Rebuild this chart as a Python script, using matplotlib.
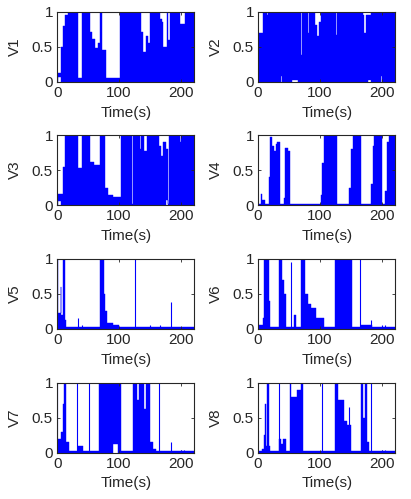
import matplotlib
matplotlib.use("Agg")
import matplotlib.pyplot as plt
import numpy as np

# ── Data ───────────────────────────────────────────────────────────────────────
# Each panel: envelope segments (t_start, low, high), held until next t_start.
# Spikes: (t, height) single thin lines from zero.
T_END = 222

v1_seg = [(0, 0, 0.13), (2, 0.07, 0.13), (7, 0, 0.5), (9, 0, 0.8), (12, 0, 0.95),
          (18, 0, 1), (34, 0, 0.05), (40, 0, 1), (53, 0, 0.72), (57, 0, 0.62),
          (62, 0, 0.48), (66, 0, 0.55), (69, 0, 1), (73, 0, 0.45), (79, 0, 0.05),
          (102, 0, 1), (135, 0, 0.72), (139, 0, 0.42), (143, 0, 0.65), (147, 0, 0.55),
          (150, 0, 1), (166, 0, 0.9), (169, 0, 0.85), (171, 0, 0.5), (177, 0, 1),
          (179, 0, 0.6), (183, 0, 1), (198, 0, 0.83), (206, 0, 1)]
v1_spk = []

v2_seg = [(0, 0.3, 0.7), (2, 0, 0.7), (8, 0, 1), (14, 0, 0.96), (16, 0, 1),
          (37, 0.08, 1), (39, 0, 1), (55, 0.03, 1), (65, 0, 1), (69, 0, 0.38),
          (70.5, 0, 1), (81, 0, 0.7), (82.5, 0, 1), (88, 0, 0.65), (89.5, 0, 1),
          (92, 0, 0.82), (96, 0, 0.65), (98, 0, 0.85), (102, 0, 1), (126, 0, 0.67),
          (127.5, 0, 1), (170, 0, 0.95), (172, 0, 0.7), (174, 0, 0.95),
          (177.5, 0, 0.02), (178.5, 0.03, 0.95), (182, 0, 1), (199, 0.08, 1), (201, 0, 1)]
v2_spk = []

v3_seg = [(0, 0, 0.16), (1, 0.06, 0.16), (7, 0, 0.16), (10, 0, 0.55), (12, 0, 1),
          (34, 0, 0.53), (41, 0, 1), (53, 0, 0.62), (60, 0, 0.58), (69, 0, 1),
          (77, 0, 0.25), (83, 0, 0.15), (91, 0, 0.11), (104, 0, 1), (121.5, 0, 0.02),
          (122.5, 0, 1), (133.5, 0, 0.8), (135, 0, 1), (140, 0, 0.77), (145, 0, 1),
          (164, 0, 0.85), (168, 0, 0.7), (172, 0, 0.9), (176, 0.07, 0.8),
          (180, 0, 0.02), (181, 0, 1), (198, 0, 0.9), (200, 0, 1)]
v3_spk = []

v4_seg = [(0, 0, 0.015), (5, 0, 0.16), (7, 0, 0.08), (11, 0, 0.015), (18, 0, 0.4),
          (20, 0, 0.97), (22, 0, 0.85), (26, 0, 0.78), (29, 0, 0.88), (31, 0, 0.9),
          (35, 0, 0.015), (42, 0, 0.1), (44, 0, 0.82), (48, 0, 0.78), (52, 0, 0.015),
          (101, 0, 0.15), (103, 0, 0.6), (106, 0, 1), (127, 0, 0.015), (147, 0, 0.25),
          (150, 0, 0.8), (153, 0, 1), (166, 0, 0.015), (182, 0, 0.3), (185, 0, 0.85),
          (188, 0, 1), (200, 0, 0.015), (206, 0, 0.2), (209, 0, 0.9), (212, 0, 1)]
v4_spk = []

v5_seg = [(0, 0, 1), (1.5, 0, 0.22), (6, 0, 0.6), (7, 0, 0.2), (9, 0, 1),
          (12, 0, 0.12), (15, 0, 0.02), (70, 0, 1), (75, 0, 0.5), (77, 0, 0.25),
          (80, 0, 0.08), (90, 0, 0.06), (100, 0, 0.02)]
v5_spk = [(33, 0.15), (40, 0.05), (126, 1), (150, 0.06), (166, 0.05), (184, 0.38), (204, 0.03)]

v6_seg = [(0, 0, 0.06), (8, 0, 0.15), (10, 0, 1), (17, 0, 0.4), (19, 0, 0.03),
          (33, 0, 1), (39, 0, 0.7), (42, 0, 0.5), (45, 0, 0.03), (58, 0, 0.2),
          (62, 0, 0.03), (69, 0, 1), (76, 0, 0.5), (80, 0, 0.35), (86, 0, 0.3),
          (93, 0, 0.15), (106, 0, 0.03), (125, 0, 1), (152, 0, 0.03), (166, 0, 0.06),
          (184, 0, 0.03)]
v6_spk = [(53, 0.95), (164, 1), (183, 0.13), (200, 0.05), (205, 0.05)]

v7_seg = [(0, 0, 0.2), (7, 0, 0.3), (9, 0, 0.7), (11, 0, 1), (15, 0, 0.15),
          (20, 0, 0.02), (34, 0, 0.1), (42, 0, 0.02), (68, 0, 1), (91, 0.12, 1),
          (99, 0, 1), (104, 0, 0.02), (123, 0, 1), (129, 0, 0.75), (133, 0, 1),
          (140, 0, 0.62), (143, 0, 1), (150, 0, 0.15), (155, 0, 0.05), (160, 0, 0.02)]
v7_spk = [(0.5, 1), (32, 1), (52, 1), (164, 1), (184, 0.15), (200, 0.04), (205, 0.04)]

v8_seg = [(0, 0, 0.02), (7, 0, 0.05), (9, 0, 0.25), (11, 0, 0.7), (12.5, 0, 0.1),
          (14, 0, 1), (17, 0, 0.1), (20, 0, 0.02), (34, 0, 0.2), (37, 0, 0.12),
          (40, 0, 0.2), (45, 0, 0.02), (51, 0, 1), (54, 0, 0.8), (63, 0, 0.9),
          (69, 0, 1), (72, 0, 0.02), (125, 0, 1), (130, 0, 0.75), (139, 0, 0.45),
          (144, 0, 0.4), (150, 0, 0.02), (166, 0, 1), (170, 0, 0.5), (173, 0, 1),
          (176, 0, 0.15), (180, 0, 0.02)]
v8_spk = [(34, 1), (104, 1), (147, 0.65), (183, 1), (200, 0.03), (205, 0.03)]

labels = ["V1", "V2", "V3", "V4", "V5", "V6", "V7", "V8"]
segments = [v1_seg, v2_seg, v3_seg, v4_seg, v5_seg, v6_seg, v7_seg, v8_seg]
spikes = [v1_spk, v2_spk, v3_spk, v4_spk, v5_spk, v6_spk, v7_spk, v8_spk]

# ── Style ──────────────────────────────────────────────────────────────────────
INK = "#262626"
plt.rcParams.update({
    "font.family": ["Liberation Sans", "DejaVu Sans"],
    "font.size": 11,
    "axes.linewidth": 0.8,
    "axes.edgecolor": INK,
    "text.color": INK,
    "axes.labelcolor": INK,
    "xtick.color": INK,
    "ytick.color": INK,
})
BLUE = "#0000ff"

fig = plt.figure(figsize=(4.11, 4.99), dpi=100)

col_left = [0.139, 0.628]
ax_w = 0.334
row_bottom = [0.836, 0.589, 0.341, 0.093]
ax_h = 0.140

for i, (lab, seg, spk) in enumerate(zip(labels, segments, spikes)):
    r, c = divmod(i, 2)
    ax = fig.add_axes([col_left[c], row_bottom[r], ax_w, ax_h])

    t = [s[0] for s in seg] + [T_END]
    lo = [s[1] for s in seg] + [seg[-1][1]]
    hi = [s[2] for s in seg] + [seg[-1][2]]
    ax.fill_between(t, lo, hi, step="post", color=BLUE, linewidth=0.3, edgecolor=BLUE)
    if spk:
        ax.vlines([s[0] for s in spk], 0, [s[1] for s in spk], color=BLUE, linewidth=0.8)

    ax.set_xlim(0, T_END)
    ax.set_ylim(0, 1)
    ax.set_xticks([0, 100, 200])
    ax.set_yticks([0, 0.5, 1])
    ax.set_yticklabels(["0", "0.5", "1"])
    ax.tick_params(direction="in", length=2.5, width=0.6, top=True, right=True, pad=3)
    ax.set_xlabel("Time(s)", labelpad=4)
    ax.set_ylabel(lab, labelpad=7)

plt.savefig("out.png", dpi=100)
plt.close()
